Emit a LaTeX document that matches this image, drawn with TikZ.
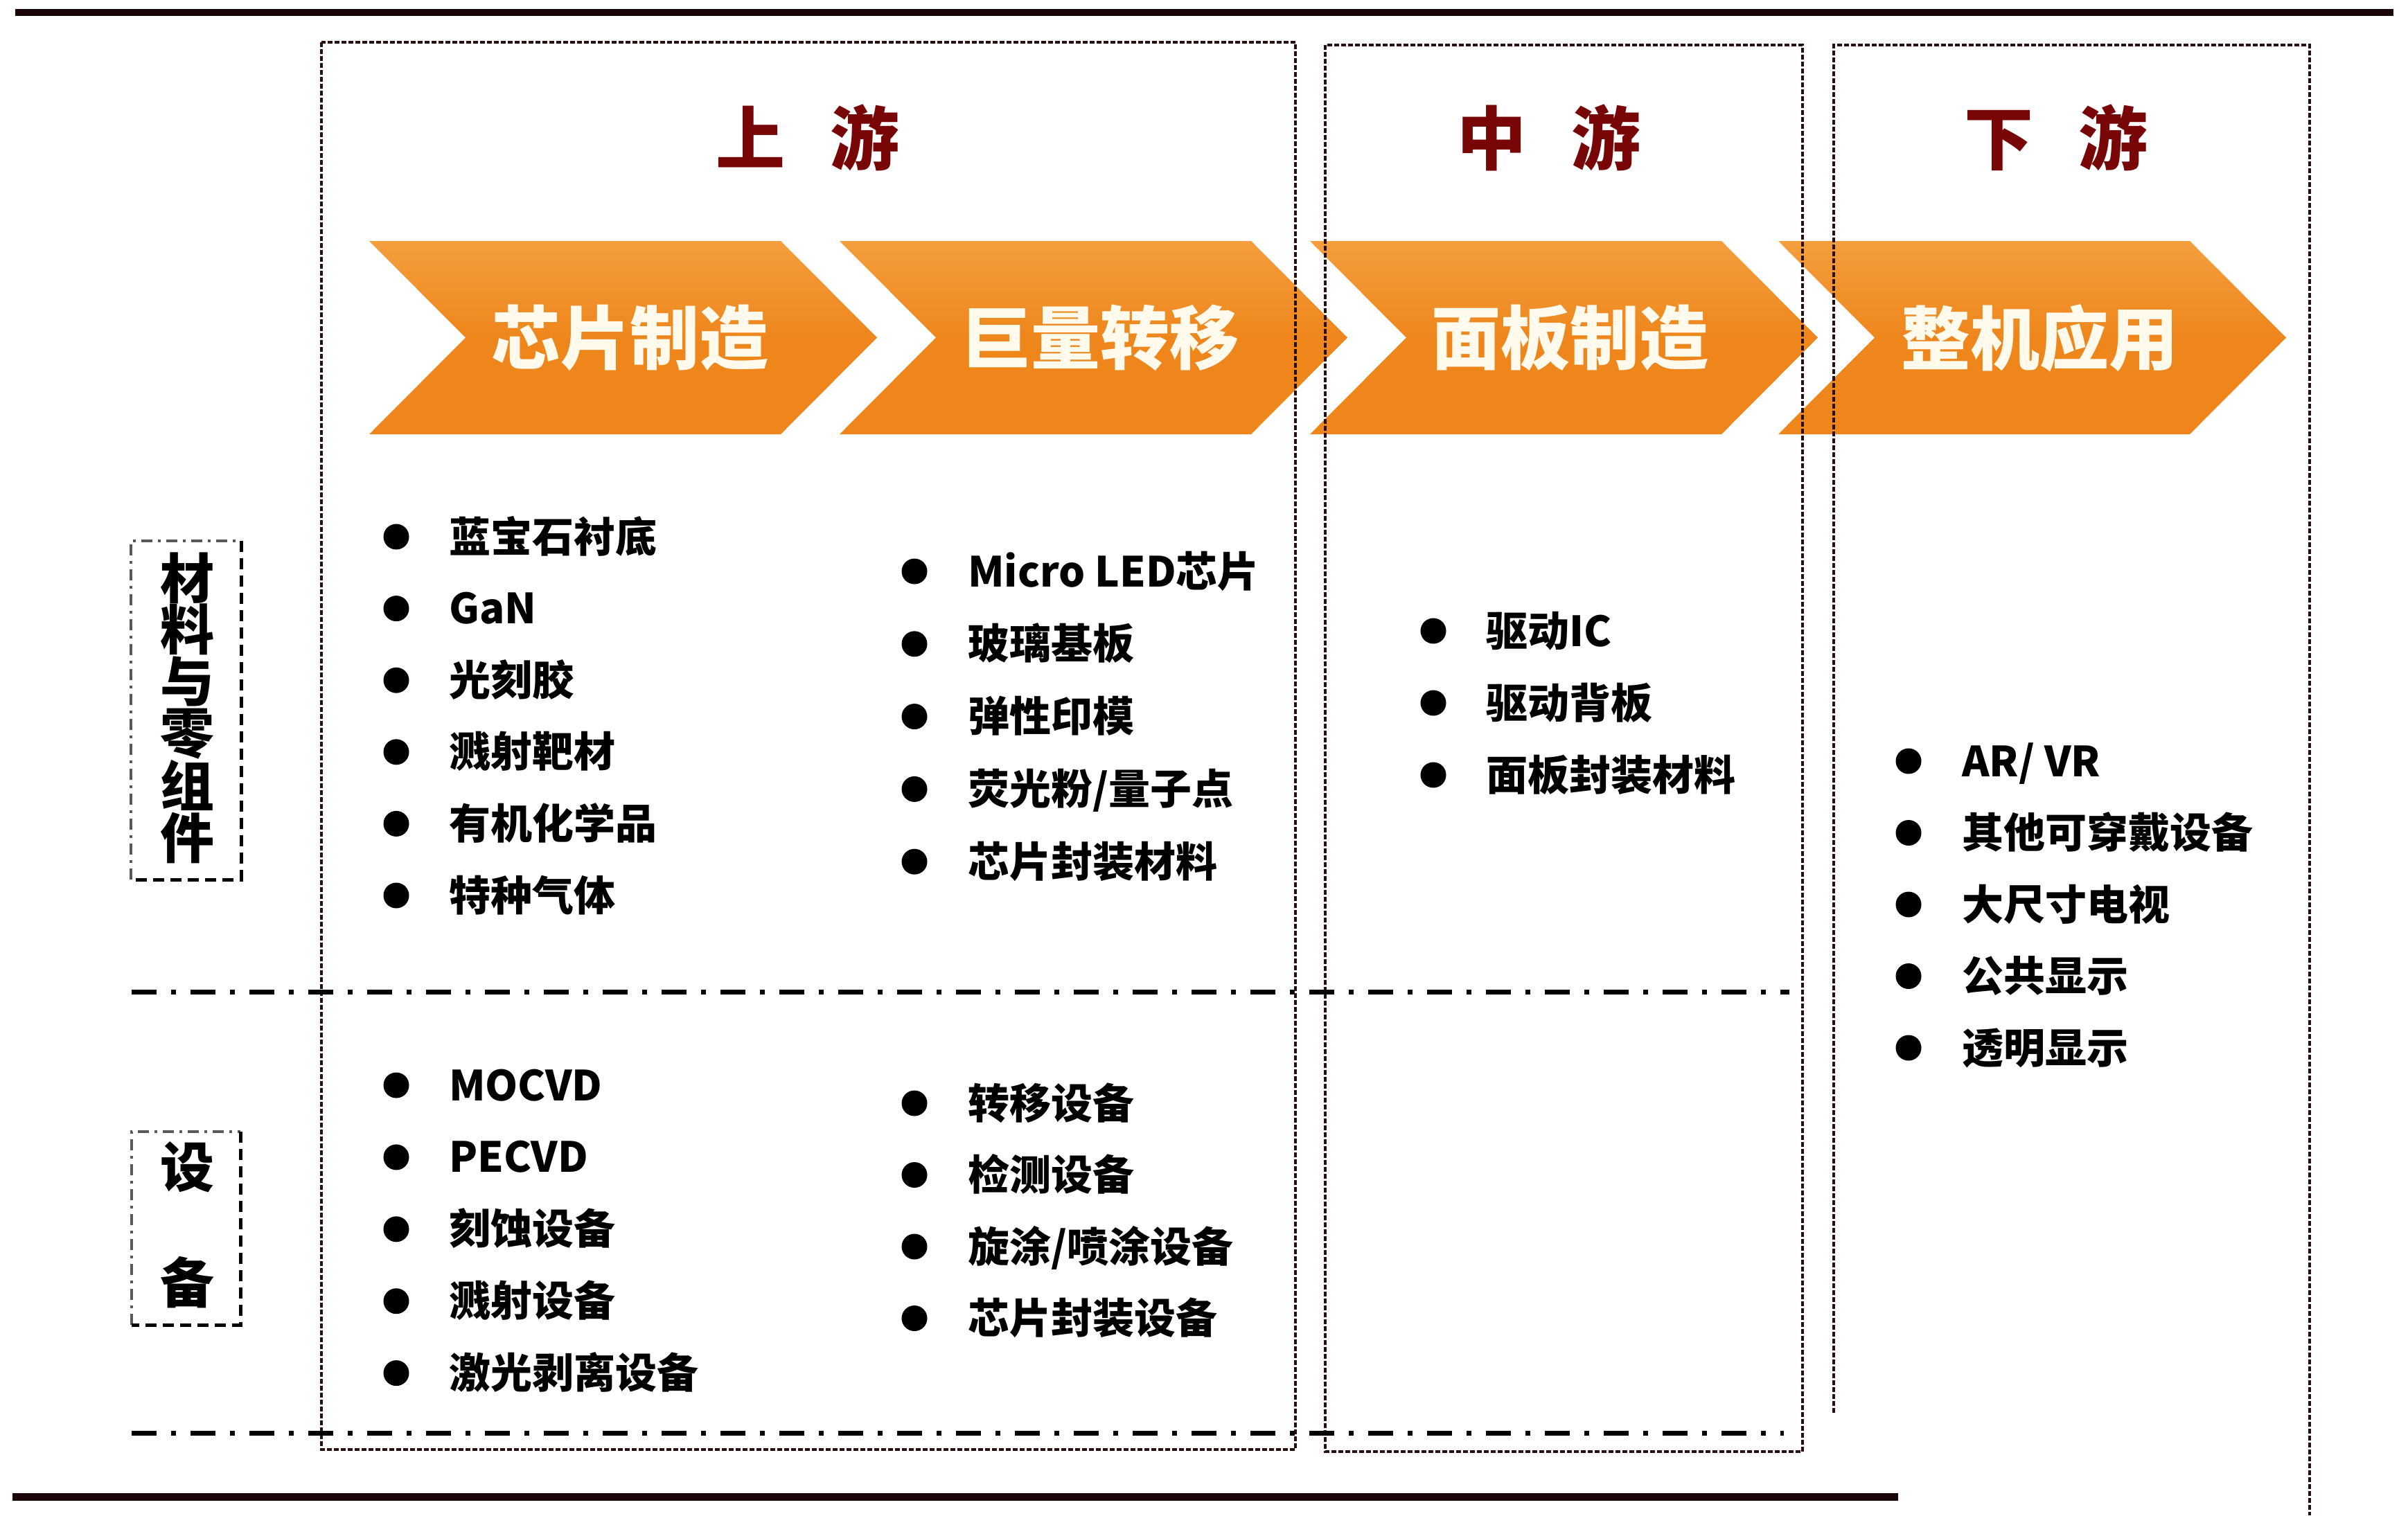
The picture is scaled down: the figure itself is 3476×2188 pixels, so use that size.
\documentclass[tikz,border=0pt]{standalone}
\usepackage{fontspec}
\setmainfont{Noto Sans CJK SC}
\definecolor{chevorange}{RGB}{238,134,28}
\definecolor{chevtop}{RGB}{244,158,62}
\definecolor{chevtxt}{RGB}{255,250,236}
\definecolor{titlered}{RGB}{120,6,6}
\definecolor{boxcol}{RGB}{40,15,15}
\definecolor{rulecol}{RGB}{25,5,5}
\begin{document}
\begin{tikzpicture}[x=1pt,y=-1pt,
  chev/.style={top color=chevtop, bottom color=chevorange, middle color=chevorange, draw=none},
  chevtext/.style={text=chevtxt, font=\bfseries\fontsize{100}{110}\selectfont, inner sep=0pt},
  titletext/.style={text=titlered, font=\bfseries\fontsize{100}{110}\selectfont, inner sep=0pt},
  item/.style={anchor=west, font=\bfseries\fontsize{60}{66}\selectfont, inner sep=0pt, text height=52pt, text depth=8pt},
  dot/.style={circle, fill=black, minimum size=37pt, inner sep=0pt},
  boxline/.style={draw=boxcol, line width=4.5pt, dash pattern=on 7pt off 3pt},
  sepline/.style={draw=black, line width=7pt, dash pattern=on 36pt off 21pt on 7pt off 21pt},
  lblgray/.style={draw=gray!70!black, line width=4pt, dash pattern=on 16pt off 8pt on 4pt off 8pt},
  lblblack/.style={draw=black, line width=5pt, dash pattern=on 16pt off 9pt},
  lbltext/.style={font=\bfseries\fontsize{78}{74.6}\selectfont, align=center, inner sep=0pt},
  rule/.style={draw=rulecol, line width=10pt}
]
\useasboundingbox[fill=white] (0,0) rectangle (3476,2188);

% top and bottom rules
\coordinate (topL) at (22,17.5);
\coordinate (topR) at (3455,17.5);
\draw[rule] (topL) -- (topR);
\coordinate (botL) at (18,2161);
\coordinate (botR) at (2740,2161);
\draw[rule, line width=11pt] (botL) -- (botR);

% chevrons
\foreach \L [count=\i] in {533,1212,1891,2567}{
  \path[chev] (\L,348) -- ({\L+594},348) -- ({\L+733},487.5) -- ({\L+594},627) -- (\L,627) -- ({\L+139},487.5) -- cycle;
}
\node[chevtext] (c1) at (909,488) {芯片制造};
\node[chevtext] (c2) at (1588,488) {巨量转移};
\node[chevtext] (c3) at (2266,488) {面板制造};
\node[chevtext] (c4) at (2944,488) {整机应用};

% stage boxes
\draw[boxline] (464,61) rectangle (1870,2093);
\draw[boxline] (1913,65) rectangle (2602,2096);
\coordinate (dsBL) at (2647,2040);
\coordinate (dsTL) at (2647,65);
\coordinate (dsTR) at (3334,65);
\coordinate (dsBR) at (3334,2188);
\draw[boxline] (dsBL) -- (dsTL) -- (dsTR) -- (dsBR);

% titles
\node[titletext] (t1) at (1166,199) {上\hspace{65pt}游};
\node[titletext] (t2) at (2236,199) {中\hspace{65pt}游};
\node[titletext] (t3) at (2968,199) {下\hspace{65pt}游};

% separators
\coordinate (s1a) at (190,1432);
\coordinate (s1b) at (2583,1432);
\coordinate (s2a) at (190,2069);
\coordinate (s2b) at (2575,2069);
\draw[sepline] (s1a) -- (s1b);
\draw[sepline] (s2a) -- (s2b);

% row labels
\draw[lblgray] (189,1270) -- (189,781) -- (348,781);
\draw[lblblack] (348,781) -- (348,1270) -- (189,1270);
\node[lbltext] (lab1) at (270,1022) {材\\料\\与\\零\\组\\件};
\draw[lblgray] (190,1913) -- (190,1634) -- (347,1634);
\draw[lblblack] (347,1634) -- (347,1913) -- (190,1913);
\node[lbltext, font=\bfseries\fontsize{78}{167}\selectfont] (lab2) at (270,1769) {设\\备};

% materials, upstream col 1
\foreach \t [count=\i] in {蓝宝石衬底,GaN,光刻胶,溅射靶材,有机化学品,特种气体}{
  \node[dot] (ba\i) at (572,{775+103.6*(\i-1)}) {};
  \node[item] (ma\i) at (648,{775+103.6*(\i-1)}) {\t};
}
% materials, upstream col 2
\foreach \t [count=\i] in {Micro LED芯片,玻璃基板,弹性印模,荧光粉/量子点,芯片封装材料}{
  \node[dot] (bb\i) at (1320,{825+104.8*(\i-1)}) {};
  \node[item] (mb\i) at (1397,{825+104.8*(\i-1)}) {\t};
}
% midstream
\foreach \t [count=\i] in {驱动IC,驱动背板,面板封装材料}{
  \node[dot] (bc\i) at (2069,{911+104*(\i-1)}) {};
  \node[item] (mc\i) at (2145,{911+104*(\i-1)}) {\t};
}
% downstream
\foreach \t [count=\i] in {AR/ VR,其他可穿戴设备,大尺寸电视,公共显示,透明显示}{
  \node[dot] (bd\i) at (2755,{1099+103.5*(\i-1)}) {};
  \node[item] (md\i) at (2832,{1099+103.5*(\i-1)}) {\t};
}
% equipment col 1
\foreach \t [count=\i] in {MOCVD,PECVD,刻蚀设备,溅射设备,激光剥离设备}{
  \node[dot] (be\i) at (572,{1567+103.9*(\i-1)}) {};
  \node[item] (me\i) at (648,{1567+103.9*(\i-1)}) {\t};
}
% equipment col 2
\foreach \t [count=\i] in {转移设备,检测设备,旋涂/喷涂设备,芯片封装设备}{
  \node[dot] (bf\i) at (1320,{1593+103.5*(\i-1)}) {};
  \node[item] (mf\i) at (1397,{1593+103.5*(\i-1)}) {\t};
}
\end{tikzpicture}
\end{document}
